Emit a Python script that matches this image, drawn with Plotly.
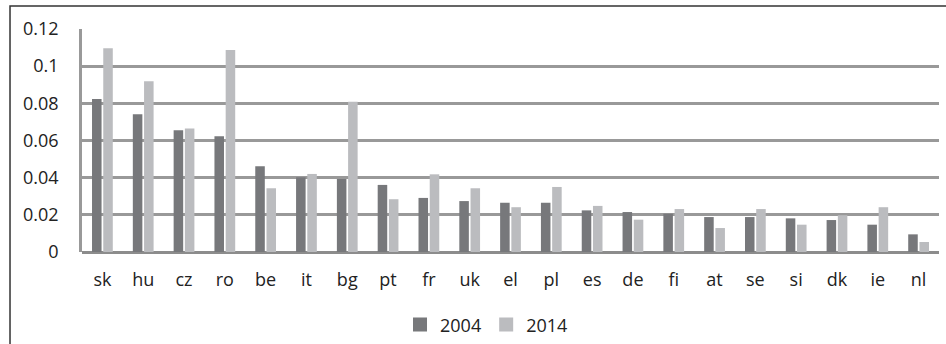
import plotly.graph_objects as go

countries = ["sk", "hu", "cz", "ro", "be", "it", "bg", "pt", "fr", "uk", "el",
             "pl", "es", "de", "fi", "at", "se", "si", "dk", "ie", "nl"]
values_2004 = [0.0823, 0.0741, 0.0655, 0.0623, 0.0461, 0.0402, 0.0393, 0.0361,
               0.0291, 0.0274, 0.0265, 0.0265, 0.0224, 0.0215, 0.0206, 0.0188,
               0.0188, 0.0181, 0.0172, 0.0147, 0.0095]
values_2014 = [0.1096, 0.0919, 0.0664, 0.1087, 0.0343, 0.0420, 0.0809, 0.0284,
               0.0418, 0.0343, 0.0241, 0.0350, 0.0248, 0.0174, 0.0231, 0.0129,
               0.0231, 0.0147, 0.0198, 0.0241, 0.0054]
y_ticks = [0, 0.02, 0.04, 0.06, 0.08, 0.1, 0.12]
y_tick_labels = ["0", "0.02", "0.04", "0.06", "0.08", "0.1", "0.12"]

FONT = "'Open Sans', Lato, sans-serif"
DARK = "#77787b"
LIGHT = "#bbbcbf"

fig = go.Figure()
fig.add_trace(go.Bar(name="2004", x=countries, y=values_2004, showlegend=False,
                     legendgroup="2004", marker=dict(color=DARK, line=dict(width=0))))
fig.add_trace(go.Bar(name="2014", x=countries, y=values_2014, showlegend=False,
                     legendgroup="2014", marker=dict(color=LIGHT, line=dict(width=0))))
# square legend keys
for name, color in (("2004", DARK), ("2014", LIGHT)):
    fig.add_trace(go.Scatter(name=name, x=[None], y=[None], mode="markers",
                             legendgroup=name,
                             marker=dict(symbol="square", size=14, color=color,
                                         line=dict(width=0))))

fig.update_layout(
    width=946, height=344,
    margin=dict(l=82, r=7, t=29, b=92, autoexpand=False),
    paper_bgcolor="white", plot_bgcolor="white",
    barmode="group", bargap=0.45, bargroupgap=0.15,
    font=dict(family=FONT, size=18, color="#222222"),
    showlegend=True,
    legend=dict(orientation="h", x=0.472, y=-0.327, xanchor="center",
                yanchor="middle", font=dict(size=18), itemwidth=30,
                traceorder="normal", bgcolor="rgba(0,0,0,0)"),
    shapes=[dict(type="rect", xref="paper", yref="paper",
                 x0=-0.084, x1=1.02, y0=-0.5, y1=1.103,
                 line=dict(color="#333333", width=1.5), layer="below")],
)
fig.update_xaxes(showgrid=False, showline=False, ticks="", ticklabelstandoff=15,
                 tickfont=dict(size=18), automargin=False)
fig.update_yaxes(range=[0, 0.12], tickvals=y_ticks, ticktext=y_tick_labels,
                 showgrid=True, gridcolor="#999999", gridwidth=2.5,
                 zeroline=True, zerolinecolor="#8c8c8c", zerolinewidth=3,
                 showline=True, linecolor="#999999", linewidth=2.5,
                 ticks="", ticklabelstandoff=17, tickfont=dict(size=18),
                 automargin=False)

fig.write_html("out.html")
